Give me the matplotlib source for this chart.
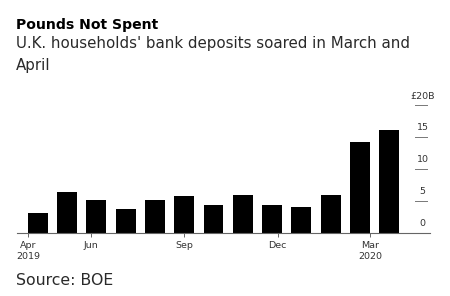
import matplotlib.pyplot as plt
import numpy as np

plt.rcParams['font.family'] = ['DejaVu Sans']

# monthly change in UK household bank deposits, £ billions
months = ['Apr 2019', 'May', 'Jun', 'Jul', 'Aug', 'Sep', 'Oct', 'Nov',
          'Dec', 'Jan 2020', 'Feb', 'Mar', 'Apr']
deposits = [3.0, 6.35, 5.05, 3.75, 5.05, 5.75, 4.3, 5.85, 4.3, 4.0, 5.95, 14.2, 16.1]

# x tick positions (month starts on the bar scale) and labels
tick_pos = [-0.32, 1.8, 5.0, 8.19, 11.35]
tick_labels = ['Apr\n2019', 'Jun', 'Sep', 'Dec', 'Mar\n2020']

y_ticks = [0, 5, 10, 15, 20]
y_labels = ['0', '5', '10', '15', '£20B']

fig = plt.figure(figsize=(4.5, 2.96), dpi=100)
ax = fig.add_axes([17 / 450, 1 - 232.5 / 296, 413 / 450, 127.5 / 296])

x = np.arange(len(deposits))
ax.bar(x, deposits, width=0.68, color='black', zorder=2)

ax.set_xlim(-0.71, 13.39)
ax.set_ylim(0, 20)

for s in ['top', 'right', 'left']:
    ax.spines[s].set_visible(False)
ax.spines['bottom'].set_color('#666666')
ax.spines['bottom'].set_linewidth(0.8)

ax.set_xticks(tick_pos)
ax.set_xticklabels(tick_labels, fontsize=6.8, color='#333333', linespacing=1.25)
ax.tick_params(axis='x', length=3, width=0.7, color='#666666', pad=3)
ax.set_yticks([])

# right-hand short tick lines with labels above them
trans = ax.get_yaxis_transform()
for v, lab in zip(y_ticks, y_labels):
    if v > 0:
        ax.plot([0.964, 0.993], [v, v], transform=trans, color='#777777',
                lw=0.7, clip_on=False)
    ax.text(0.982, v + 1.4, lab, transform=trans, ha='center', va='center',
            fontsize=6.8, color='#333333', clip_on=False)

fig.text(16 / 450, 1 - 28.7 / 296, 'Pounds Not Spent', fontsize=10.1,
         fontweight='bold', color='black', va='baseline')
fig.text(16 / 450, 1 - 48.3 / 296, "U.K. households' bank deposits soared in March and",
         fontsize=10.85, color='#2a2a2a', va='baseline')
fig.text(16 / 450, 1 - 70 / 296, 'April', fontsize=10.85, color='#2a2a2a', va='baseline')
fig.text(16 / 450, 1 - 285 / 296, 'Source: BOE', fontsize=11.3, color='#2a2a2a',
         va='baseline')

fig.savefig('out.png', dpi=100)
